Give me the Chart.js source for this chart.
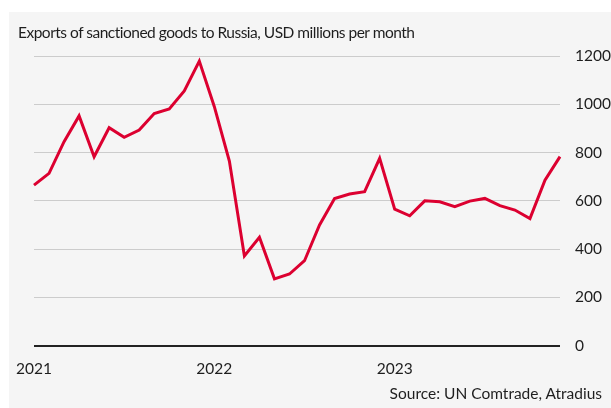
<!DOCTYPE html>
<html>
<head>
<meta charset="utf-8">
<script src="https://cdn.jsdelivr.net/npm/chart.js@4.4.0/dist/chart.umd.min.js"></script>
<style>
  body { margin: 0; background: #fff; }
  #wrap { position: relative; width: 611px; height: 408px; overflow: hidden; }
  #panel { position: absolute; left: 9px; top: 12px; right: 0; bottom: 0; background: #f5f5f5; }
  #exportChart { position: absolute; left: 0; top: 0; }
  .txt { position: absolute; font-family: Lato, sans-serif; font-size: 15.5px; color: #1e1e1e; white-space: nowrap; }
  #title { left: 18px; top: 23px; letter-spacing: -0.5px; }
  #source { right: 9px; top: 384px; }
</style>
</head>
<body>
<div id="wrap">
  <div id="panel"></div>
  <canvas id="exportChart" width="611" height="408"></canvas>
  <div class="txt" id="title">Exports of sanctioned goods to Russia, USD millions per month</div>
  <div class="txt" id="source">Source: UN Comtrade, Atradius</div>
</div>
<script>
var years = ["2021", "2022", "2023"];
var months = ["01", "02", "03", "04", "05", "06", "07", "08", "09", "10", "11", "12"];
// exports, USD millions, Jan 2021 - Dec 2023
var exportsUsd = [665, 714, 845, 952, 783, 903, 863, 893, 962, 981, 1055, 1179,
                  990, 765, 372, 449, 277, 297, 352, 500, 610, 628, 638, 776,
                  566, 538, 600, 596, 576, 599, 610, 580, 562, 527, 686, 783];
var yTicks = [0, 200, 400, 600, 800, 1000, 1200];

var labels = [];
years.forEach(function (y) {
  months.forEach(function (m) { labels.push(y + "-" + m); });
});

var ctx = document.getElementById("exportChart").getContext('2d');
var exportChart = new Chart(ctx, {
  type: 'line',
  data: {
    labels: labels,
    datasets: [{
      label: 'Exports',
      data: exportsUsd,
      borderColor: "#dc0030",
      borderWidth: 3,
      pointRadius: 0,
      tension: 0,
      fill: false
    }]
  },
  options: {
    responsive: false,
    animation: false,
    layout: { padding: { left: 34, top: 56, right: 0, bottom: 0 } },
    plugins: { legend: { display: false }, tooltip: { enabled: false } },
    scales: {
      x: {
        offset: false,
        grid: { display: false, drawTicks: false },
        border: { display: false },
        afterFit: function (scale) { scale.height = 62.3; },
        ticks: {
          autoSkip: false,
          maxRotation: 0,
          padding: 14,
          color: "#1e1e1e",
          font: { family: "Lato", size: 15.5 },
          callback: function (val, i) {
            var l = labels[i];
            return l.slice(5) === "01" ? l.slice(0, 4) : "";
          }
        }
      },
      y: {
        position: 'right',
        min: yTicks[0],
        max: yTicks[yTicks.length - 1],
        afterFit: function (scale) { scale.width = 51; },
        afterBuildTicks: function (scale) {
          scale.ticks = yTicks.map(function (v) { return { value: v }; });
        },
        border: { display: false },
        grid: {
          drawTicks: false,
          color: function (c) { return c.tick && c.tick.value === 0 ? "#222" : "#cccccc"; },
          lineWidth: function (c) { return c.tick && c.tick.value === 0 ? 2 : 1; }
        },
        ticks: {
          padding: 15,
          color: "#1e1e1e",
          font: { family: "Lato", size: 15.5 },
          callback: function (v) { return String(v); }
        }
      }
    }
  }
});
</script>
</body>
</html>
